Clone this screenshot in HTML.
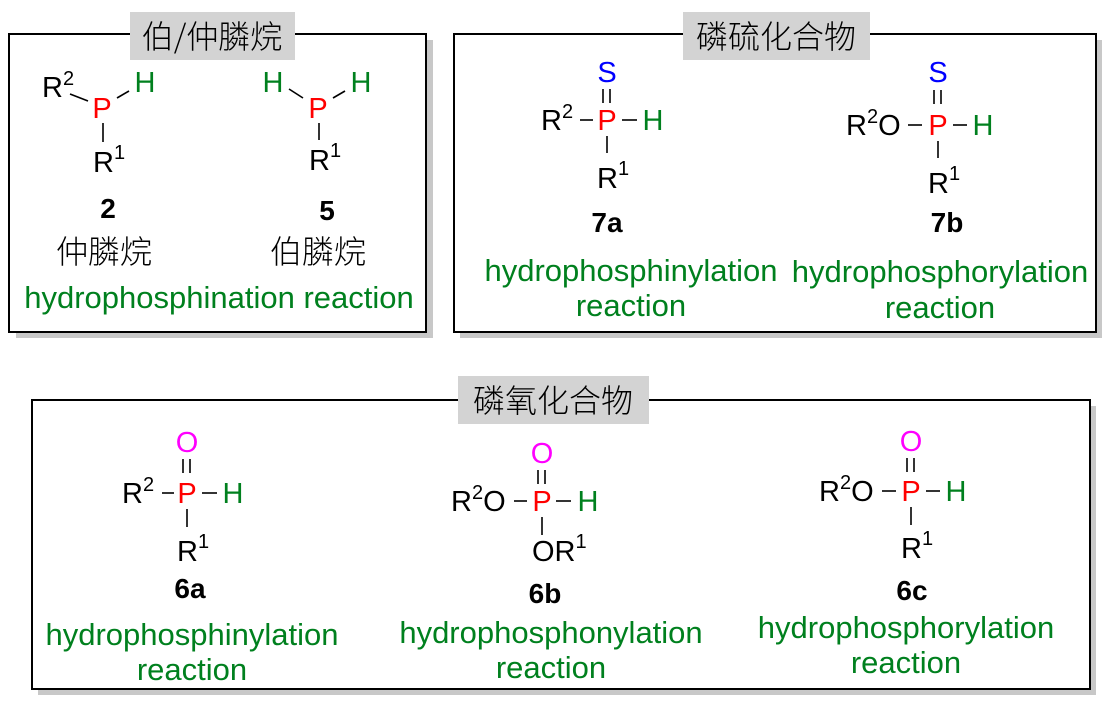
<!DOCTYPE html>
<html><head><meta charset="utf-8"><style>
body{margin:0;background:#fff;}
svg{display:block;font-family:"Liberation Sans","Noto Sans CJK SC",sans-serif;}
.c{font-size:29px;fill:#000}
.r{fill:#f00}.g{fill:#00801e}.b{fill:#0000ff}.m{fill:#ff00ff}
.gt{font-size:31px;fill:#00801e}
.cn{font-size:32px;fill:#000;font-family:"Noto Sans CJK SC",sans-serif;font-weight:300}
.bn{font-size:28px;font-weight:bold;fill:#000}
.sup{font-size:20px}
line{stroke:#000;stroke-width:1.6}
</style></head><body>
<svg width="1114" height="706" viewBox="0 0 1114 706">
<rect x="16" y="40" width="417" height="298" fill="#c8c8c8"/>
<rect x="460" y="40" width="642" height="298" fill="#c8c8c8"/>
<rect x="38" y="406" width="1058" height="289" fill="#c8c8c8"/>
<rect x="9" y="34" width="417" height="298" fill="#fff" stroke="#000" stroke-width="2"/>
<rect x="454" y="34" width="642" height="298" fill="#fff" stroke="#000" stroke-width="2"/>
<rect x="32" y="400" width="1058" height="289" fill="#fff" stroke="#000" stroke-width="2"/>
<rect x="130" y="12" width="165" height="48" fill="#d3d3d3"/>
<text x="212" y="48" class="cn" text-anchor="middle">伯/仲膦烷</text>
<rect x="683" y="12" width="187" height="48" fill="#d3d3d3"/>
<text x="776" y="48" class="cn" text-anchor="middle">磷硫化合物</text>
<rect x="458" y="376" width="191" height="48" fill="#d3d3d3"/>
<text x="553" y="412" class="cn" text-anchor="middle">磷氧化合物</text>

<text x="42" y="97" class="c">R<tspan class="sup" dy="-12">2</tspan></text>
<line x1="70" y1="94" x2="88" y2="101"/>
<text x="102" y="118" class="c r" text-anchor="middle">P</text>
<line x1="117" y1="98" x2="129" y2="91"/>
<text x="145" y="92" class="c g" text-anchor="middle">H</text>
<line x1="103" y1="123" x2="103" y2="142"/>
<text x="93" y="172" class="c">R<tspan class="sup" dy="-13">1</tspan></text>
<text x="108" y="218" class="bn" text-anchor="middle">2</text>
<text x="104" y="263" class="cn" text-anchor="middle">仲膦烷</text>
<text x="219" y="308" class="gt" text-anchor="middle">hydrophosphination reaction</text>
<text x="273" y="92" class="c g" text-anchor="middle">H</text>
<line x1="289" y1="89" x2="303" y2="98"/>
<text x="318" y="118" class="c r" text-anchor="middle">P</text>
<line x1="333" y1="98" x2="345" y2="91"/>
<text x="361" y="92" class="c g" text-anchor="middle">H</text>
<line x1="319" y1="123" x2="319" y2="140"/>
<text x="309" y="170" class="c">R<tspan class="sup" dy="-13">1</tspan></text>
<text x="327" y="220" class="bn" text-anchor="middle">5</text>
<text x="318" y="263" class="cn" text-anchor="middle">伯膦烷</text>

<text x="607" y="82" class="c b" text-anchor="middle">S</text>
<line x1="603" y1="89" x2="603" y2="103"/><line x1="610" y1="89" x2="610" y2="103"/>
<text x="541" y="130" class="c">R<tspan class="sup" dy="-12">2</tspan></text>
<line x1="580" y1="120" x2="593" y2="120"/>
<text x="607" y="130" class="c r" text-anchor="middle">P</text>
<line x1="622" y1="120" x2="637" y2="120"/>
<text x="653" y="130" class="c g" text-anchor="middle">H</text>
<line x1="607" y1="136" x2="607" y2="153"/>
<text x="597" y="188" class="c">R<tspan class="sup" dy="-13">1</tspan></text>
<text x="607" y="232" class="bn" text-anchor="middle">7a</text>
<text x="631" y="281" class="gt" text-anchor="middle">hydrophosphinylation</text>
<text x="631" y="316" class="gt" text-anchor="middle">reaction</text>
<text x="938" y="82" class="c b" text-anchor="middle">S</text>
<line x1="934" y1="90" x2="934" y2="104"/><line x1="941" y1="90" x2="941" y2="104"/>
<text x="846" y="135" class="c">R<tspan class="sup" dy="-12">2</tspan><tspan dy="12">O</tspan></text>
<line x1="908" y1="125" x2="922" y2="125"/>
<text x="938" y="135" class="c r" text-anchor="middle">P</text>
<line x1="953" y1="125" x2="967" y2="125"/>
<text x="983" y="135" class="c g" text-anchor="middle">H</text>
<line x1="938" y1="141" x2="938" y2="158"/>
<text x="928" y="193" class="c">R<tspan class="sup" dy="-13">1</tspan></text>
<text x="947" y="232" class="bn" text-anchor="middle">7b</text>
<text x="940" y="282" class="gt" text-anchor="middle">hydrophosphorylation</text>
<text x="940" y="318" class="gt" text-anchor="middle">reaction</text>

<text x="187" y="452" class="c m" text-anchor="middle">O</text>
<line x1="183" y1="459" x2="183" y2="473"/><line x1="190" y1="459" x2="190" y2="473"/>
<text x="122" y="503" class="c">R<tspan class="sup" dy="-12">2</tspan></text>
<line x1="162" y1="493" x2="174" y2="493"/>
<text x="187" y="503" class="c r" text-anchor="middle">P</text>
<line x1="202" y1="493" x2="217" y2="493"/>
<text x="233" y="503" class="c g" text-anchor="middle">H</text>
<line x1="187" y1="509" x2="187" y2="527"/>
<text x="177" y="561" class="c">R<tspan class="sup" dy="-13">1</tspan></text>
<text x="190" y="598" class="bn" text-anchor="middle">6a</text>
<text x="192" y="645" class="gt" text-anchor="middle">hydrophosphinylation</text>
<text x="192" y="680" class="gt" text-anchor="middle">reaction</text>
<text x="542" y="463" class="c m" text-anchor="middle">O</text>
<line x1="538" y1="470" x2="538" y2="484"/><line x1="545" y1="470" x2="545" y2="484"/>
<text x="451" y="511" class="c">R<tspan class="sup" dy="-12">2</tspan><tspan dy="12">O</tspan></text>
<line x1="514" y1="501" x2="527" y2="501"/>
<text x="542" y="511" class="c r" text-anchor="middle">P</text>
<line x1="556" y1="501" x2="571" y2="501"/>
<text x="588" y="511" class="c g" text-anchor="middle">H</text>
<line x1="542" y1="517" x2="542" y2="535"/>
<text x="532" y="561" class="c">OR<tspan class="sup" dy="-13">1</tspan></text>
<text x="545" y="603" class="bn" text-anchor="middle">6b</text>
<text x="551" y="643" class="gt" text-anchor="middle">hydrophosphonylation</text>
<text x="551" y="678" class="gt" text-anchor="middle">reaction</text>
<text x="911" y="451" class="c m" text-anchor="middle">O</text>
<line x1="907" y1="458" x2="907" y2="472"/><line x1="914" y1="458" x2="914" y2="472"/>
<text x="819" y="501" class="c">R<tspan class="sup" dy="-12">2</tspan><tspan dy="12">O</tspan></text>
<line x1="882" y1="491" x2="896" y2="491"/>
<text x="911" y="501" class="c r" text-anchor="middle">P</text>
<line x1="926" y1="491" x2="940" y2="491"/>
<text x="956" y="501" class="c g" text-anchor="middle">H</text>
<line x1="911" y1="507" x2="911" y2="525"/>
<text x="901" y="558" class="c">R<tspan class="sup" dy="-13">1</tspan></text>
<text x="912" y="600" class="bn" text-anchor="middle">6c</text>
<text x="906" y="638" class="gt" text-anchor="middle">hydrophosphorylation</text>
<text x="906" y="673" class="gt" text-anchor="middle">reaction</text>
</svg>
</body></html>
